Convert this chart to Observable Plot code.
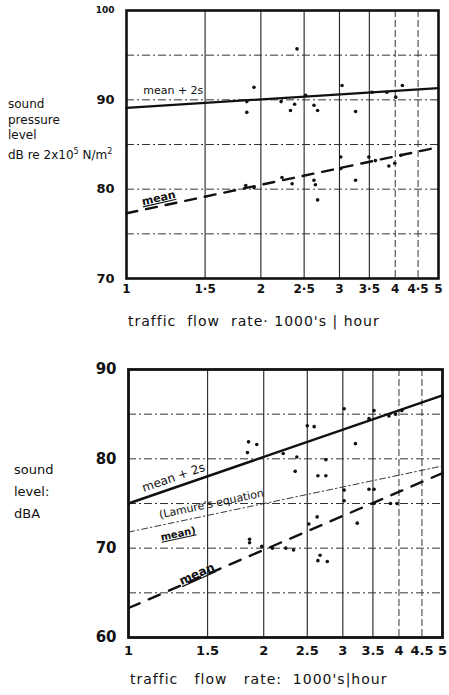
<!DOCTYPE html>
<html>
<head>
<meta charset="utf-8">
<script src="https://cdn.jsdelivr.net/npm/d3@7"></script>
<script src="https://cdn.jsdelivr.net/npm/@observablehq/plot@0.6"></script>
<style>
  html, body { margin: 0; padding: 0; background: #fff; }
  #wrap { position: relative; width: 449px; height: 695px; overflow: hidden; font-family: "DejaVu Sans", sans-serif; color: #111; background: #fff; }
  .fig { position: absolute; left: 0; z-index: 1; }
  .lbl { position: absolute; z-index: 2; font-size: 12px; line-height: 16px; color: #111; white-space: nowrap; }
  .xt { position: absolute; z-index: 2; font-size: 14px; color: #111; white-space: nowrap; letter-spacing: 1px; }
</style>
</head>
<body>
<div id="wrap">
  <div id="top" class="fig" style="top:0px;"></div>
  <div id="bot" class="fig" style="top:359px;"></div>
  <div class="lbl" style="left:8px; top:97px; line-height:15.5px;">sound<br>pressure<br>level<br>dB re 2x10<sup style="font-size:8px">5</sup> N/m<sup style="font-size:8px">2</sup></div>
  <div class="lbl" style="left:14px; top:459px; font-size:13px; line-height:22px;">sound<br>level:<br>dBA</div>
  <div class="xt" style="left:128px; top:313px;">traffic&nbsp;&nbsp;flow&nbsp;&nbsp;rate·&nbsp;1000's&nbsp;|&nbsp;hour</div>
  <div class="xt" style="left:130px; top:671px;">traffic&nbsp;&nbsp;&nbsp;flow&nbsp;&nbsp;&nbsp;rate:&nbsp;&nbsp;1000's|hour</div>
</div>
<script>
// ---- shared axis data ----
const xTicks = [1, 1.5, 2, 2.5, 3, 3.5, 4, 4.5, 5];
const topXLabels = ["1", "1·5", "2", "2·5", "3", "3·5", "4", "4·5", "5"];
const botXLabels = ["1", "1.5", "2", "2.5", "3", "3.5", "4", "4.5", "5"];
const gridXSolid = [1.5, 2, 2.5, 3, 3.5];
const gridXDashed = [4, 4.5];

// ---- top panel: sound pressure level (dB re 2x10^-5 N/m^2) ----
const topYTicks = [70, 80, 90, 100];
const topGridY = [75, 80, 85, 90, 95];
const fitX = [1, 5];
const topMean2s = [89.1, 91.3];
const topMean = [77.3, 84.7];
const topPtsX = [1.93, 1.86, 1.86, 2.22, 2.38, 2.33, 2.63, 2.68, 2.52, 3.04, 3.26, 3.55, 3.83, 4.01, 4.15, 2.41,
                 1.85, 1.93, 2.23, 2.35, 2.63, 2.65, 2.68, 3.02, 3.02, 3.26, 3.49, 3.61, 3.87, 3.99, 4.12];
const topPtsY = [91.4, 88.6, 89.8, 89.8, 89.5, 88.8, 89.4, 88.8, 90.5, 91.6, 88.7, 90.85, 90.85, 90.3, 91.6, 95.7,
                 80.4, 80.2, 81.3, 80.6, 81.0, 80.5, 78.8, 83.6, 82.3, 81.0, 83.6, 83.2, 82.6, 82.9, 83.8];

// ---- bottom panel: sound level dBA ----
const botYTicks = [60, 70, 80, 90];
const botGridY = [65, 70, 75, 80, 85];
const botMean2s = [75.0, 87.1];
const botLamure = [71.8, 79.2];
const botMean = [63.3, 78.4];
const botPtsX = [1.85, 1.93, 1.84, 2.21, 2.37, 2.50, 2.59, 2.75, 2.35, 2.64, 2.75, 3.02, 3.20, 3.43, 3.52, 3.80, 3.93, 4.06,
                 1.86, 1.86, 1.98, 2.09, 2.24, 2.33, 2.52, 2.63, 2.67, 2.64, 2.77, 3.02, 3.02, 3.23, 3.43, 3.52, 3.52, 3.83, 3.96];
const botPtsY = [81.9, 81.6, 80.7, 80.6, 80.2, 83.7, 83.6, 79.9, 78.6, 78.1, 78.1, 85.6, 81.7, 84.5, 85.4, 84.8, 85.0, 85.4,
                 71.0, 70.6, 70.2, 70.0, 70.0, 69.8, 72.7, 73.5, 69.2, 68.6, 68.5, 76.5, 75.3, 72.8, 76.6, 76.6, 75.0, 75.0, 75.0];

const line = (xs, ys) => xs.map((x, i) => ({x, y: ys[i]}));
const pts = (xs, ys) => xs.map((x, i) => ({x, y: ys[i]}));
const fmt = labels => d => {
  const i = xTicks.findIndex(t => Math.abs(t - d) < 1e-9);
  return i >= 0 ? labels[i] : "";
};

const baseStyle = {fontFamily: "DejaVu Sans, sans-serif", fontSize: "12px", color: "#111", background: "transparent", overflow: "visible"};

function gridMarks(gridY) {
  return [
    Plot.ruleX(gridXSolid, {stroke: "#222", strokeWidth: 1.1}),
    Plot.ruleX(gridXDashed, {stroke: "#333", strokeWidth: 1, strokeDasharray: "7,3"}),
    Plot.ruleY(gridY, {stroke: "#333", strokeWidth: 1, strokeDasharray: "8,3,2,3"})
  ];
}

const topPlot = Plot.plot({
  width: 449, height: 300,
  marginLeft: 126, marginRight: 11, marginTop: 10, marginBottom: 22,
  style: baseStyle,
  x: {type: "log", domain: [1, 5], ticks: xTicks, tickFormat: fmt(topXLabels), tickSize: 0, tickPadding: 6, label: null},
  y: {domain: [70, 100], ticks: topYTicks, tickSize: 0, tickPadding: 12, label: null},
  marks: [
    ...gridMarks(topGridY),
    Plot.frame({stroke: "#111", strokeWidth: 2.6}),
    Plot.line(line(fitX, topMean2s), {x: "x", y: "y", stroke: "#111", strokeWidth: 2.2}),
    Plot.line(line(fitX, topMean), {x: "x", y: "y", stroke: "#111", strokeWidth: 2.4, strokeDasharray: "11,9"}),
    Plot.dot(pts(topPtsX, topPtsY), {x: "x", y: "y", r: 1.8, fill: "#111"}),
    Plot.text(["mean + 2s"], {x: 1.09, y: 91.1, text: d => d, textAnchor: "start", fontSize: 11}),
    Plot.text(["mean"], {x: 1.18, y: 79.0, text: d => d, textAnchor: "middle", rotate: -13, fontSize: 11, fontWeight: "bold"})
  ]
});
document.getElementById("top").append(topPlot);

const botPlot = Plot.plot({
  width: 449, height: 302,
  marginLeft: 128, marginRight: 7, marginTop: 10, marginBottom: 24,
  style: baseStyle,
  x: {type: "log", domain: [1, 5], ticks: xTicks, tickFormat: fmt(botXLabels), tickSize: 0, tickPadding: 8, label: null},
  y: {domain: [60, 90], ticks: botYTicks, tickSize: 0, tickPadding: 12, label: null},
  marks: [
    ...gridMarks(botGridY),
    Plot.frame({stroke: "#111", strokeWidth: 2.8}),
    Plot.line(line(fitX, botMean2s), {x: "x", y: "y", stroke: "#111", strokeWidth: 2.4}),
    Plot.line(line(fitX, botLamure), {x: "x", y: "y", stroke: "#222", strokeWidth: 0.9, strokeDasharray: "6,3,1.5,3"}),
    Plot.line(line(fitX, botMean), {x: "x", y: "y", stroke: "#111", strokeWidth: 2.4, strokeDasharray: "12,10"}),
    Plot.dot(pts(botPtsX, botPtsY), {x: "x", y: "y", r: 1.8, fill: "#111"}),
    Plot.text(["mean + 2s"], {x: 1.26, y: 77.9, text: d => d, textAnchor: "middle", rotate: -19, fontSize: 12}),
    Plot.text(["(Lamure's equation"], {x: 1.53, y: 74.95, text: d => d, textAnchor: "middle", rotate: -12, fontSize: 11}),
    Plot.text(["mean)"], {x: 1.29, y: 71.6, text: d => d, textAnchor: "middle", rotate: -12, fontSize: 10, fontWeight: "bold"}),
    Plot.text(["mean"], {x: 1.42, y: 67.1, text: d => d, textAnchor: "middle", rotate: -24, fontSize: 12, fontWeight: "bold"})
  ]
});
document.getElementById("bot").append(botPlot);

// tick-label styling
for (const svg of [topPlot, botPlot]) {
  d3.select(svg).selectAll("[aria-label='x-axis tick label'] text, [aria-label='y-axis tick label'] text")
    .style("font-weight", "600");
}
d3.select(topPlot).selectAll("[aria-label='x-axis tick label'] text").style("font-size", "12px");
d3.select(botPlot).selectAll("[aria-label='x-axis tick label'] text").style("font-size", "13px");
d3.select(botPlot).selectAll("[aria-label='y-axis tick label'] text").style("font-size", "15px");
d3.select(topPlot).selectAll("[aria-label='y-axis tick label'] text").style("font-size", "13px");
d3.select(topPlot).selectAll("[aria-label='y-axis tick label'] text").filter(function() { return this.textContent === "100"; }).style("font-size", "9px");
// underline the "mean" annotations
for (const svg of [topPlot, botPlot]) {
  d3.select(svg).selectAll("[aria-label='text'] text").filter(function() { return this.textContent === "mean" || this.textContent === "mean)"; })
    .style("text-decoration", "underline");
}
</script>
</body>
</html>
